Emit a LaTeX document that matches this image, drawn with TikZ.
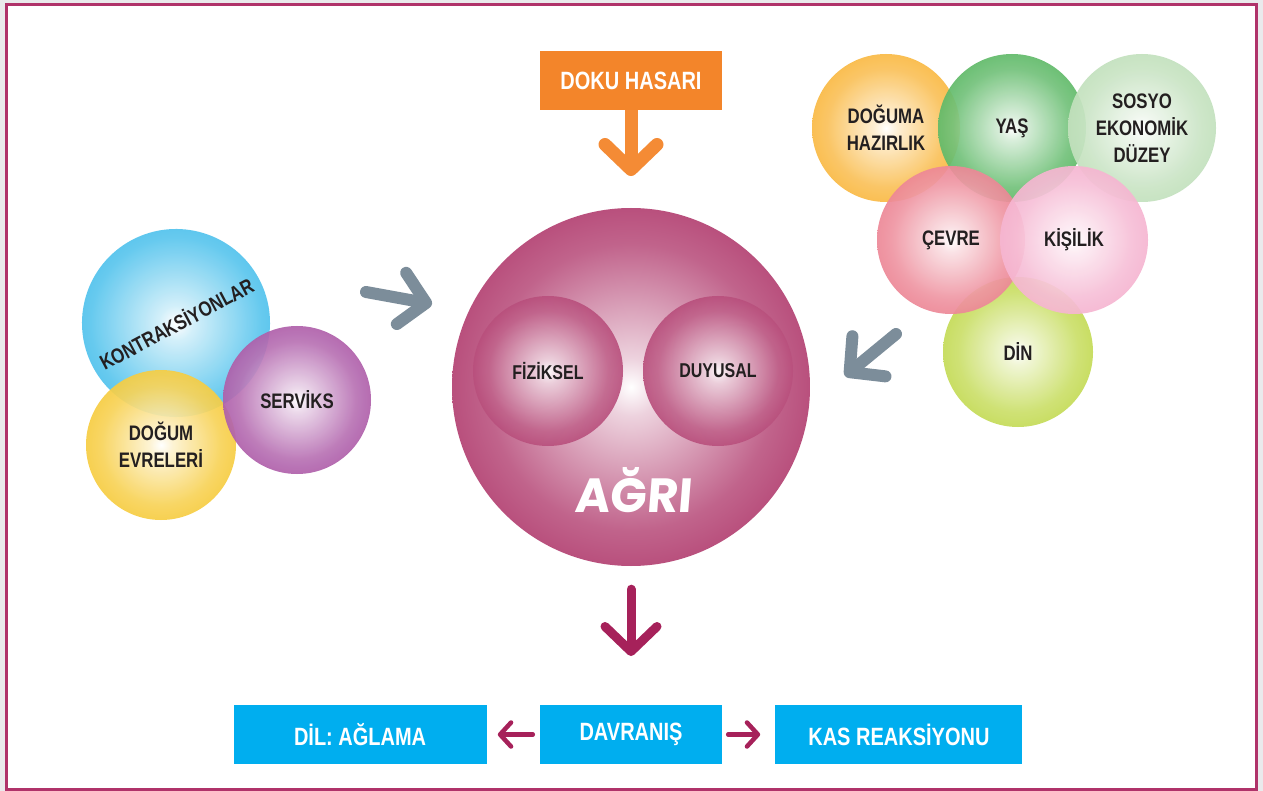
\documentclass[tikz,border=0pt]{standalone}
\usepackage{fontspec}
\setmainfont{Liberation Sans}[FakeStretch=0.8]
\newfontfamily\agrifont{Poppins}[FakeSlant=0.08]
\usetikzlibrary{arrows.meta, positioning}

\definecolor{framec}{HTML}{B0336A}
\definecolor{paper}{HTML}{EAEAEC}
\definecolor{txt}{HTML}{231F20}
\definecolor{dokuc}{HTML}{F3852A}
\definecolor{tagc}{HTML}{00AEEF}
\definecolor{agric}{HTML}{A6215A}
\definecolor{greyc}{HTML}{7C8D9A}
\definecolor{kontc}{HTML}{13ADE6}
\definecolor{evrec}{HTML}{F5C010}
\definecolor{servc}{HTML}{9A3594}
\definecolor{hazc}{HTML}{F8A713}
\definecolor{yasc}{HTML}{37A842}
\definecolor{sosyoc}{HTML}{B3D9AC}
\definecolor{cevrec}{HTML}{E8687B}
\definecolor{kisic}{HTML}{F3A2C5}
\definecolor{dinc}{HTML}{B5D22A}

\pgfdeclareradialshading[glowc]{glow}{\pgfpoint{0bp}{0bp}}{%
  color(0bp)=(white); color(4bp)=(glowc!20!white); color(20bp)=(glowc!70!white);
  color(34bp)=(glowc!95!white); color(50bp)=(glowc)}

\tikzset{
  bubble/.style 2 args={circle, inner sep=0pt, minimum size=#1, align=center,
    /utils/exec={\colorlet{glowc}{#2}}, shading=glow, fill opacity=.92,
    text opacity=1, text=txt, font=\fontsize{21}{27}\selectfont\bfseries},
  tagbox/.style={fill=tagc, text=white, minimum height=59pt, inner sep=0pt,
    font=\fontsize{25}{25}\selectfont\bfseries},
  fatarrow/.style={line width=#1, -{Straight Barb[length=25pt, width=52pt, round]}},
  smallarrow/.style={draw=agric, line width=4.5pt, line cap=round,
    -{Straight Barb[length=11pt, width=24pt, round]}}
}

\begin{document}
\begin{tikzpicture}[x=1pt, y=-1pt, node distance=53pt]
  \useasboundingbox (0,0) rectangle (1263,791);
  \fill[paper] (0,0) rectangle (1263,791);
  \draw[framec, line width=3pt, fill=white] (6.5,4.5) rectangle (1256.5,789.5);

  \node[fill=dokuc, text=white, minimum width=182pt, minimum height=59pt, inner sep=0pt,
        font=\fontsize{25}{25}\selectfont\bfseries] (doku) at (631,80.5) {DOKU HASARI};

  \node[bubble={358pt}{agric}, fill opacity=1] (agri) at (631,387) {};
  \node[bubble={150pt}{agric}, font=\fontsize{20}{24}\selectfont\bfseries] (fiziksel) at (548,371) {FİZİKSEL};
  \node[bubble={150pt}{agric}, font=\fontsize{20}{24}\selectfont\bfseries] (duyusal) at (718,371) {DUYUSAL};
  \node[text=white, font={\fontsize{48}{50}\agrifont\bfseries}] (agrilabel) at (633,490) {AĞRI};

  \node[bubble={188pt}{kontc}, rotate=28] (kontraksiyon) at (176,323) {KONTRAKSİYONLAR};
  \node[bubble={150pt}{evrec}] (evreler) at (161,445) {DOĞUM\\EVRELERİ};
  \node[bubble={148pt}{servc}] (serviks) at (297,400) {SERVİKS};

  \node[bubble={148pt}{hazc}] (hazirlik) at (886,128) {DOĞUMA\\HAZIRLIK};
  \node[bubble={148pt}{yasc}] (yas) at (1012,128) {YAŞ};
  \node[bubble={148pt}{sosyoc}] (sosyo) at (1142,128) {SOSYO\\EKONOMİK\\DÜZEY};
  \node[bubble={150pt}{dinc}] (din) at (1018,352) {DİN};
  \node[bubble={148pt}{cevrec}] (cevre) at (951,240) {ÇEVRE};
  \node[bubble={148pt}{kisic}] (kisilik) at (1074,240) {KİŞİLİK};

  \node[tagbox, minimum width=182pt] (davranis) at (631,734.5) {DAVRANIŞ};
  \node[tagbox, minimum width=253pt, left=of davranis] (dil) {DİL: AĞLAMA};
  \node[tagbox, minimum width=247pt, right=of davranis] (kas) {KAS REAKSİYONU};

  \coordinate (dokutip) at (631,176);
  \coordinate (lefttail) at (366,292);
  \coordinate (lefttip) at (432,304);
  \coordinate (righttail) at (896,334);
  \coordinate (righttip) at (845,376);
  \coordinate (agritip) at (631,656);

  \draw[fatarrow=13pt, dokuc!95!white] (doku.south) -- (dokutip);
  \draw[fatarrow=12pt, greyc, line cap=round] (lefttail) -- (lefttip);
  \draw[fatarrow=12pt, greyc, line cap=round] (righttail) -- (righttip);
  \draw[fatarrow=9pt, agric, line cap=round] (agri.south) ++(0,23) -- (agritip);
  \draw[smallarrow, shorten <=7pt, shorten >=11pt] (davranis.west) -- (dil.east);
  \draw[smallarrow, shorten <=6pt, shorten >=15pt] (davranis.east) -- (kas.west);
\end{tikzpicture}
\end{document}
